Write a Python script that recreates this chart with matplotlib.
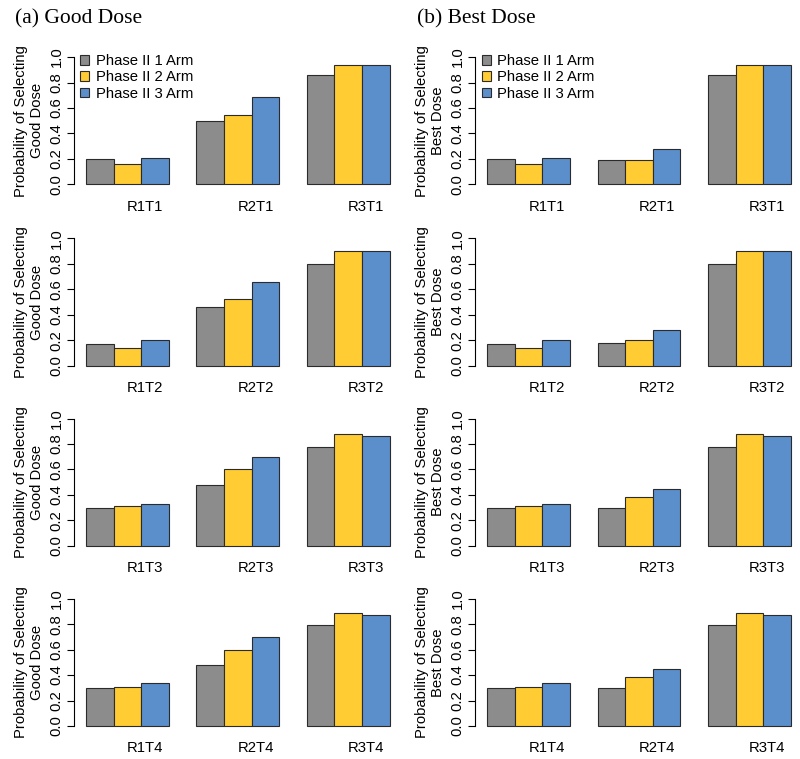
import matplotlib
matplotlib.use("Agg")
import matplotlib.pyplot as plt
from matplotlib.patches import Patch

plt.rcParams['font.family'] = ['Liberation Sans', 'DejaVu Sans']

# data: one entry per row (T1..T4), each entry = [R1, R2, R3]
arms = ["Phase II 1 Arm", "Phase II 2 Arm", "Phase II 3 Arm"]
scenarios = [["R1T1", "R2T1", "R3T1"],
             ["R1T2", "R2T2", "R3T2"],
             ["R1T3", "R2T3", "R3T3"],
             ["R1T4", "R2T4", "R3T4"]]

good_1arm = [[0.20, 0.50, 0.86], [0.17, 0.46, 0.80], [0.30, 0.48, 0.78], [0.30, 0.48, 0.79]]
good_2arm = [[0.16, 0.545, 0.94], [0.14, 0.525, 0.905], [0.31, 0.60, 0.88], [0.31, 0.60, 0.89]]
good_3arm = [[0.21, 0.69, 0.94], [0.20, 0.655, 0.905], [0.33, 0.70, 0.865], [0.335, 0.70, 0.875]]

best_1arm = [[0.20, 0.19, 0.86], [0.17, 0.18, 0.80], [0.30, 0.30, 0.78], [0.30, 0.30, 0.79]]
best_2arm = [[0.16, 0.19, 0.94], [0.14, 0.20, 0.905], [0.31, 0.38, 0.88], [0.31, 0.385, 0.89]]
best_3arm = [[0.21, 0.28, 0.94], [0.20, 0.28, 0.905], [0.33, 0.445, 0.865], [0.335, 0.45, 0.875]]

colors = ["#8C8C8C", "#FFCC33", "#5B8FCC"]
edge = "#2b2b2b"
fs = 10.7

fig = plt.figure(figsize=(8, 7.59), dpi=100)

col_left = [0.0924, 0.5939]
col_width = 0.4098
row_bottom = [0.7505, 0.5115, 0.2743, 0.0368]
row_height = 0.181

panels = [("Good Dose", [good_1arm, good_2arm, good_3arm]),
          ("Best Dose", [best_1arm, best_2arm, best_3arm])]

for c, (kind, series) in enumerate(panels):
    for r in range(4):
        ax = fig.add_axes([col_left[c], row_bottom[r], col_width, row_height])
        for s in range(3):
            vals = series[s][r]
            lefts = [1 + 4 * g + s for g in range(3)]
            ax.bar(lefts, vals, width=1, align='edge', color=colors[s],
                   edgecolor=edge, linewidth=0.8)
        ax.set_xlim(0.56, 12.44)
        ax.set_ylim(-0.04, 1.04)
        for sp in ['top', 'right', 'bottom']:
            ax.spines[sp].set_visible(False)
        ax.spines['left'].set_bounds(0, 1)
        ax.spines['left'].set_linewidth(0.8)
        ax.set_yticks([0, 0.2, 0.4, 0.6, 0.8, 1.0])
        ax.set_yticklabels(["0.0", "0.2", "0.4", "0.6", "0.8", "1.0"],
                           rotation=90, va='center', fontsize=fs)
        ax.tick_params(axis='y', length=5, width=0.8, pad=2.5)
        ax.set_xticks([3.15, 7.15, 11.15])
        ax.set_xticklabels(scenarios[r], fontsize=fs)
        ax.tick_params(axis='x', length=0, pad=7.5)
        ax.set_ylabel("Probability of Selecting\n" + kind, fontsize=fs,
                      linespacing=1.15, labelpad=4)
        if r == 0:
            handles = [Patch(facecolor=colors[i], edgecolor=edge, linewidth=0.8)
                       for i in range(3)]
            ax.legend(handles, arms, loc='upper left', bbox_to_anchor=(0.02, 0.985),
                      frameon=False, fontsize=fs, borderpad=0, borderaxespad=0,
                      handlelength=0.6, handleheight=0.6, handletextpad=0.45,
                      labelspacing=0.15)

fig.text(15 / 800, 1 - 23 / 759, "(a) Good Dose", family='Liberation Serif',
         fontsize=15.5, va='baseline')
fig.text(417 / 800, 1 - 23 / 759, "(b) Best Dose", family='Liberation Serif',
         fontsize=15.5, va='baseline')

fig.savefig("out.png", dpi=100)
